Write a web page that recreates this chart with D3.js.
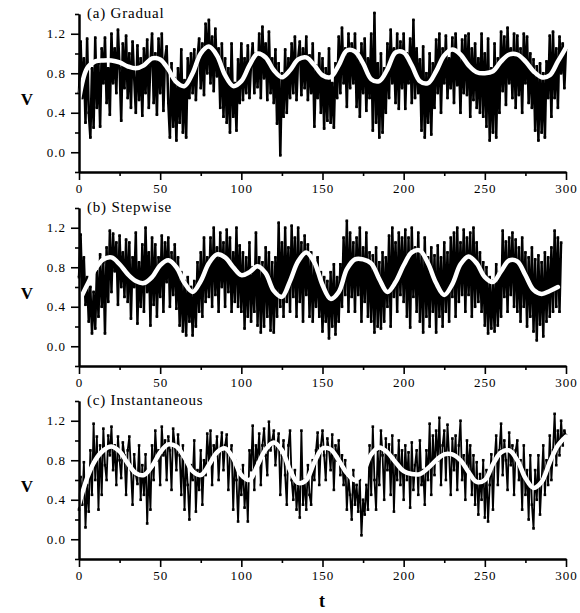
<!DOCTYPE html>
<html>
<head>
<meta charset="utf-8">
<script src="https://cdn.jsdelivr.net/npm/d3@7"></script>
<style>
  body { margin: 0; background: #fff; }
  svg text { font-family: "Liberation Serif", "Times New Roman", serif; fill: #000; }
</style>
</head>
<body>
<svg id="chart" width="580" height="613"></svg>
<script>
// ---- data ----
const panelLabels = ['(a) Gradual', '(b) Stepwise', '(c) Instantaneous'];
const xTicks = [0, 50, 100, 150, 200, 250, 300];
const xMinor = [25, 75, 125, 175, 225, 275];
const yTicks = [0.0, 0.4, 0.8, 1.2];
const yMinor = [-0.2, 0.2, 0.6, 1.0, 1.4];

const rawStep = 1;   // noisy series, one value per t
const fitStep = 5;   // smooth curve sampled every 5 t

const rawA = [
  0.60, 1.12, 0.55, 0.95, 0.30, 1.15, 0.40, 0.15, 0.85, 0.25,
  1.16, 0.45, 0.90, 0.26, 1.05, 0.70, 1.16, 0.50, 0.85, 0.38,
  1.20, 0.70, 1.05, 0.60, 1.24, 0.85, 0.32, 1.10, 0.65, 1.18,
  0.55, 1.00, 0.45, 1.12, 0.75, 0.40, 1.08, 0.53, 0.95, 0.37,
  1.05, 0.60, 1.14, 0.45, 0.90, 1.20, 0.50, 1.00, 0.38, 1.15,
  0.60, 1.20, 0.42, 0.95, 1.07, 0.50, 0.15, 0.90, 0.26, 0.75,
  0.12, 0.85, 0.30, 1.04, 0.20, 0.73, 0.15, 0.95, 0.55, 1.00,
  0.60, 1.04, 0.53, 0.95, 1.15, 0.65, 1.10, 0.58, 1.30, 0.80,
  1.34, 0.70, 1.17, 0.62, 1.25, 0.77, 1.05, 0.45, 1.10, 0.36,
  0.95, 0.30, 0.85, 0.20, 1.10, 0.36, 0.70, 0.22, 0.94, 0.50,
  1.10, 0.53, 0.95, 0.60, 1.08, 0.55, 0.90, 1.10, 0.60, 1.00,
  0.66, 1.20, 0.55, 1.27, 0.75, 1.10, 0.53, 1.22, 0.60, 0.95,
  0.50, 1.04, 0.29, 0.90, -0.03, 0.80, 0.36, 1.04, 0.40, 0.95,
  0.55, 1.10, 0.60, 1.17, 0.53, 0.95, 1.12, 0.58, 1.05, 0.65,
  1.17, 0.53, 0.98, 0.60, 1.10, 0.26, 0.88, 0.55, 1.00, 0.40,
  0.95, 0.24, 0.85, 0.32, 1.05, 0.30, 0.70, 0.25, 0.90, 0.55,
  1.17, 0.60, 1.26, 0.70, 1.05, 0.46, 1.20, 0.65, 1.10, 0.70,
  1.20, 0.46, 1.00, 0.36, 1.10, 0.60, 1.15, 0.42, 0.95, 0.55,
  1.20, 0.22, 1.41, 0.30, 0.90, 0.15, 1.00, 0.20, 0.85, 0.40,
  1.10, 0.55, 1.24, 0.70, 1.05, 0.50, 1.20, 0.44, 1.12, 0.65,
  1.20, 0.44, 1.00, 0.70, 1.15, 0.50, 1.34, 0.55, 1.05, 0.60,
  0.94, 0.22, 1.07, 0.15, 0.80, 0.30, 1.00, 0.18, 0.90, 0.45,
  1.14, 0.60, 1.20, 0.40, 1.05, 0.70, 1.18, 0.55, 0.95, 0.65,
  1.16, 0.50, 1.20, 0.68, 1.00, 0.40, 1.14, 0.60, 1.18, 0.58,
  1.20, 0.36, 1.05, 0.53, 1.10, 0.45, 0.95, 0.40, 1.20, 0.36,
  1.00, 0.26, 1.15, 0.12, 0.85, 0.20, 1.10, 0.15, 0.95, 0.40,
  1.22, 0.62, 1.17, 0.48, 1.26, 0.70, 1.05, 0.55, 1.20, 0.45,
  1.18, 0.58, 1.05, 0.40, 1.20, 0.70, 1.17, 0.50, 1.00, 0.45,
  0.94, 0.22, 0.87, 0.12, 0.90, 0.20, 0.80, 0.15, 0.92, 0.55,
  1.18, 0.36, 1.22, 0.55, 1.05, 0.45, 1.17, 0.80, 1.10, 0.65,
  1.05
];
const fitA = [
  0.53, 0.85, 0.92, 0.93, 0.93, 0.91, 0.87, 0.85, 0.88, 0.95,
  0.94, 0.84, 0.71, 0.67, 0.80, 1.00, 1.07, 0.98, 0.78, 0.67,
  0.72, 0.88, 1.00, 0.96, 0.83, 0.76, 0.83, 0.94, 0.96, 0.88,
  0.78, 0.76, 0.88, 1.03, 1.02, 0.90, 0.74, 0.72, 0.84, 1.01,
  1.01, 0.88, 0.72, 0.70, 0.82, 0.98, 1.04, 0.99, 0.88, 0.81,
  0.80, 0.82, 0.92, 0.99, 0.99, 0.92, 0.82, 0.76, 0.78, 0.92,
  1.06
];

const rawB = [
  0.70, 1.13, 0.52, 0.90, 0.42, 0.70, 0.25, 0.60, 0.13, 0.55,
  0.18, 0.76, 0.30, 0.93, 0.40, 0.85, 0.13, 1.00, 0.45, 1.17,
  0.55, 1.14, 0.76, 1.05, 0.42, 1.12, 0.60, 0.95, 0.50, 1.08,
  0.45, 1.05, 0.28, 0.90, 0.60, 1.15, 0.23, 0.85, 0.40, 1.03,
  0.35, 1.20, 0.55, 0.95, 0.21, 1.10, 0.42, 1.03, 0.30, 0.90,
  0.50, 1.12, 0.35, 1.05, 0.65, 1.10, 0.40, 0.95, 0.52, 1.03,
  0.38, 0.90, 0.21, 0.75, 0.15, 0.66, 0.11, 0.70, 0.25, 0.60,
  0.11, 0.66, 0.20, 0.85, 0.35, 0.95, 0.30, 1.10, 0.45, 0.90,
  0.50, 1.10, 0.40, 1.20, 0.52, 1.00, 0.35, 1.15, 0.60, 1.05,
  0.40, 1.18, 0.55, 1.10, 0.35, 0.95, 0.45, 1.20, 0.40, 1.02,
  0.35, 0.95, 0.18, 0.90, 0.30, 1.05, 0.25, 0.80, 0.35, 1.15,
  0.21, 0.90, 0.14, 0.85, 0.20, 1.00, 0.30, 0.95, 0.16, 0.85,
  0.14, 0.90, 0.30, 1.25, 0.40, 1.05, 0.30, 1.20, 0.45, 1.00,
  0.35, 1.22, 0.50, 1.10, 0.30, 1.20, 0.45, 1.05, 0.25, 1.12,
  0.52, 1.03, 0.30, 0.95, 0.25, 0.83, 0.40, 0.90, 0.30, 0.75,
  0.15, 0.70, 0.25, 0.66, 0.08, 0.75, 0.20, 0.83, 0.12, 0.70,
  0.25, 0.83, 0.40, 1.10, 0.52, 1.27, 0.35, 1.15, 0.50, 1.05,
  0.35, 1.10, 0.52, 1.20, 0.25, 1.00, 0.45, 1.15, 0.30, 0.95,
  0.25, 0.92, 0.14, 1.00, 0.20, 0.85, 0.18, 0.95, 0.25, 0.90,
  0.40, 1.12, 0.20, 1.20, 0.50, 1.05, 0.35, 1.15, 0.52, 1.10,
  0.45, 1.18, 0.30, 1.10, 0.19, 1.20, 0.50, 1.00, 0.35, 1.15,
  0.25, 0.95, 0.14, 1.10, 0.30, 0.90, 0.20, 1.00, 0.35, 0.92,
  0.14, 1.02, 0.30, 0.90, 0.20, 1.05, 0.35, 0.95, 0.25, 1.10,
  0.50, 1.15, 0.30, 1.20, 0.45, 1.05, 0.52, 1.18, 0.35, 1.10,
  0.52, 1.15, 0.30, 1.20, 0.40, 1.05, 0.45, 0.95, 0.35, 0.85,
  0.21, 0.80, 0.13, 0.70, 0.18, 0.66, 0.15, 0.83, 0.21, 0.75,
  0.30, 1.17, 0.50, 1.06, 0.35, 1.10, 0.52, 1.15, 0.40, 1.08,
  0.35, 1.00, 0.25, 1.10, 0.40, 0.95, 0.20, 0.90, 0.30, 1.00,
  0.15, 0.88, 0.06, 0.92, 0.22, 0.85, 0.10, 0.95, 0.25, 0.90,
  0.30, 1.00, 0.35, 1.17, 0.40, 1.10, 0.35, 1.05
];
const fitB = [
  0.45, 0.62, 0.78, 0.88, 0.90, 0.83, 0.73, 0.66, 0.64, 0.70,
  0.82, 0.87, 0.80, 0.64, 0.55, 0.66, 0.84, 0.93, 0.90, 0.80,
  0.72, 0.75, 0.81, 0.74, 0.56, 0.50, 0.66, 0.86, 0.95, 0.85,
  0.62, 0.48, 0.55, 0.78, 0.88, 0.88, 0.84, 0.68, 0.55, 0.65,
  0.82, 0.95, 0.97, 0.84, 0.64, 0.52, 0.63, 0.83, 0.91, 0.84,
  0.70, 0.65, 0.76, 0.87, 0.86, 0.72, 0.57, 0.53, 0.56, 0.60
];

const rawC = [
  0.30, 0.63, 0.35, 0.78, 0.12, 0.55, 0.28, 0.90, 0.45, 1.17,
  0.60, 1.04, 0.30, 0.95, 0.45, 1.12, 0.75, 0.60, 1.05, 0.85,
  1.14, 0.70, 0.95, 0.55, 1.04, 0.80, 0.62, 0.98, 0.85, 0.45,
  0.90, 1.04, 0.70, 0.35, 0.86, 0.65, 0.56, 0.95, 0.40, 0.75,
  0.45, 0.86, 0.16, 0.70, 0.30, 0.95, 0.60, 1.10, 0.80, 0.90,
  0.55, 1.14, 0.85, 1.00, 0.60, 1.04, 0.90, 0.50, 1.12, 0.95,
  0.70, 1.06, 0.85, 0.45, 0.95, 0.30, 0.80, 0.55, 0.20, 0.75,
  0.60, 1.00, 0.28, 0.70, 0.50, 0.90, 0.35, 0.80, 0.65, 1.07,
  0.75, 1.10, 0.55, 0.95, 0.85, 1.04, 0.60, 0.90, 1.08, 0.70,
  0.95, 1.06, 0.50, 0.85, 0.95, 0.30, 0.80, 0.60, 0.18, 0.70,
  0.45, 0.75, 0.32, 0.60, 0.18, 0.90, 0.70, 1.15, 0.50, 0.95,
  0.80, 1.07, 0.55, 0.95, 1.12, 0.85, 0.65, 1.19, 0.90, 1.00,
  1.10, 0.75, 0.95, 1.07, 0.45, 0.85, 1.00, 0.65, 0.35, 0.95,
  1.10, 0.60, 0.40, 0.70, 0.30, 0.55, 0.22, 1.10, 0.35, 0.60,
  0.30, 0.75, 0.45, 0.35, 0.80, 0.60, 0.90, 1.08, 0.55, 0.95,
  1.10, 0.85, 0.60, 1.02, 0.90, 0.70, 1.06, 0.50, 0.95, 0.80,
  1.00, 0.65, 0.85, 0.55, 0.80, 0.30, 0.63, 0.45, 0.20, 0.70,
  0.35, 0.55, 0.28, 0.60, 0.04, 0.40, 0.25, 0.55, 0.30, 0.95,
  0.45, 1.14, 0.60, 0.30, 0.90, 0.55, 1.10, 0.85, 0.40, 1.02,
  0.70, 0.96, 0.45, 1.05, 0.28, 0.85, 0.60, 1.00, 0.55, 0.90,
  0.40, 0.95, 0.60, 0.88, 0.32, 0.98, 0.50, 0.75, 0.90, 0.45,
  1.00, 0.55, 0.70, 0.35, 0.90, 0.60, 1.17, 0.45, 1.05, 0.65,
  1.10, 0.80, 1.23, 0.55, 0.95, 1.10, 0.60, 1.16, 0.85, 0.45,
  1.02, 0.70, 1.05, 0.50, 0.95, 1.20, 0.60, 0.85, 0.40, 1.00,
  0.70, 0.95, 0.45, 0.85, 0.35, 0.78, 0.25, 0.66, 0.40, 0.80,
  0.22, 0.70, 0.18, 0.55, 0.86, 0.30, 0.80, 1.05, 0.55, 0.90,
  1.17, 0.65, 1.00, 0.80, 0.50, 1.08, 0.75, 0.95, 0.45, 0.90,
  1.00, 0.60, 0.80, 0.30, 0.95, 0.45, 0.70, 0.20, 0.85, 0.35,
  0.11, 0.70, 0.40, 0.85, 0.25, 0.60, 0.95, 0.45, 0.80, 0.55,
  1.05, 0.60, 0.90, 1.27, 0.75, 1.10, 0.85, 1.20, 0.95, 1.10,
  1.05
];
const fitC = [
  0.35, 0.62, 0.80, 0.90, 0.94, 0.89, 0.77, 0.67, 0.65, 0.74,
  0.88, 0.96, 0.94, 0.83, 0.69, 0.65, 0.75, 0.88, 0.92, 0.82,
  0.65, 0.60, 0.75, 0.91, 0.98, 0.90, 0.70, 0.57, 0.60, 0.78,
  0.92, 0.91, 0.80, 0.67, 0.60, 0.68, 0.86, 0.93, 0.88, 0.78,
  0.69, 0.66, 0.66, 0.72, 0.80, 0.86, 0.86, 0.80, 0.68, 0.58,
  0.60, 0.76, 0.88, 0.90, 0.80, 0.62, 0.52, 0.58, 0.78, 0.95,
  1.04
];

const rawSeries = [rawA, rawB, rawC];
const fitSeries = [fitA, fitB, fitC];
const rawWidths = [2.5, 2.4, 1.8];

// ---- layout ----
const svg = d3.select('#chart');
const left = 79, right = 566;
const panelTops = [14, 208, 401];
const panelH = 158;

const x = d3.scaleLinear().domain([0, 300]).range([left, right]);

const rawLine = d3.line()
  .x((d, i) => x(i * rawStep))
  .y(d => d);
const fitLine = d3.line()
  .x((d, i) => x(i * fitStep))
  .y(d => d)
  .curve(d3.curveCatmullRom.alpha(0.5));

panelLabels.forEach((label, p) => {
  const top = panelTops[p];
  const y = d3.scaleLinear().domain([-0.2, 1.4]).range([top + panelH, top]);
  const g = svg.append('g');

  // noisy signal
  const raw = rawSeries[p];
  g.append('path')
    .attr('d', rawLine(raw.map(v => y(v))))
    .attr('fill', 'none')
    .attr('stroke', '#000')
    .attr('stroke-width', rawWidths[p])
    .attr('stroke-linejoin', 'round');
  g.append('g').selectAll('rect')
    .data(raw)
    .join('rect')
    .attr('x', (d, i) => x(i * rawStep) - 1.3)
    .attr('y', d => y(d) - 1.3)
    .attr('width', 2.6)
    .attr('height', 2.6)
    .attr('fill', '#000');

  // smooth fit
  g.append('path')
    .attr('d', fitLine(fitSeries[p].map(v => y(v))))
    .attr('fill', 'none')
    .attr('stroke', '#fff')
    .attr('stroke-width', 4.5)
    .attr('stroke-linecap', 'round');

  // axes
  g.append('g').attr('transform', `translate(${left},0)`)
    .call(d3.axisLeft(y).tickValues(yTicks).tickFormat(d3.format('.1f')).tickSize(8).tickSizeOuter(0).tickPadding(5));
  g.append('g').attr('transform', `translate(${left},0)`)
    .call(d3.axisLeft(y).tickValues(yMinor).tickFormat('').tickSize(4).tickSizeOuter(0));
  g.append('g').attr('transform', `translate(0,${top + panelH})`)
    .call(d3.axisBottom(x).tickValues(xTicks).tickFormat(d3.format('d')).tickSize(8).tickSizeOuter(0).tickPadding(4));
  g.append('g').attr('transform', `translate(0,${top + panelH})`)
    .call(d3.axisBottom(x).tickValues(xMinor).tickFormat('').tickSize(4).tickSizeOuter(0));

  g.selectAll('.domain').attr('stroke', '#000').attr('stroke-width', 2);
  g.selectAll('.tick line').attr('stroke', '#000').attr('stroke-width', 1.6);
  g.selectAll('.tick text')
    .style('font-family', '"Liberation Serif", "Times New Roman", serif')
    .style('font-size', '13px')
    .style('letter-spacing', '1px')
    .attr('fill', '#000');

  // panel title and y label
  g.append('text')
    .attr('x', left + 8)
    .attr('y', top + 4)
    .style('font-size', '15px')
    .style('letter-spacing', '0.8px')
    .text(label);
  g.append('text')
    .attr('x', 27)
    .attr('y', top + panelH / 2 + 12)
    .attr('text-anchor', 'middle')
    .style('font-size', '17px')
    .style('font-weight', 'bold')
    .text('V');
});

svg.append('text')
  .attr('x', 322)
  .attr('y', 607)
  .attr('text-anchor', 'middle')
  .style('font-size', '18px')
  .style('font-weight', 'bold')
  .text('t');
</script>
</body>
</html>
